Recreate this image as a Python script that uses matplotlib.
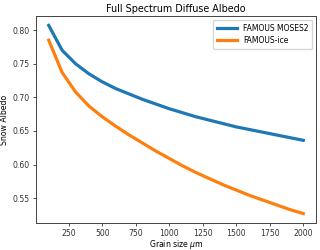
import matplotlib
matplotlib.use("Agg")
import matplotlib.pyplot as plt

grain_size = [100, 200, 300, 400, 500, 600, 700, 800, 900, 1000,
              1100, 1200, 1300, 1400, 1500, 1600, 1700, 1800, 1900, 2000]
moses2 = [0.807, 0.770, 0.750, 0.735, 0.723, 0.713, 0.705, 0.697, 0.690, 0.683,
          0.677, 0.671, 0.666, 0.661, 0.656, 0.652, 0.648, 0.644, 0.640, 0.636]
famous_ice = [0.785, 0.737, 0.708, 0.687, 0.671, 0.657, 0.644, 0.632, 0.620, 0.609,
              0.598, 0.588, 0.579, 0.570, 0.562, 0.554, 0.547, 0.540, 0.533, 0.527]

fig = plt.figure(figsize=(3.2, 2.5), dpi=100)
ax = fig.add_axes([0.1125, 0.108, 0.875, 0.828])
ax.plot(grain_size, moses2, color="#1f77b4", lw=2.3, label="FAMOUS MOSES2",
        solid_joinstyle="round")
ax.plot(grain_size, famous_ice, color="#ff7f0e", lw=2.3, label="FAMOUS-ice",
        solid_joinstyle="round")
ax.set_title("Full Spectrum Diffuse Albedo", fontsize=6.9, pad=3)
ax.set_xlabel("Grain size $\\mu$m", fontsize=5.6, labelpad=0)
ax.set_ylabel("Snow Albedo", fontsize=5.6, labelpad=3)
ax.set_xticks([250, 500, 750, 1000, 1250, 1500, 1750, 2000])
ax.set_yticks([0.55, 0.60, 0.65, 0.70, 0.75, 0.80])
ax.tick_params(labelsize=5.6, length=2.5, width=0.6, pad=1.8, colors="#333333")
for s in ax.spines.values():
    s.set_linewidth(0.7)
    s.set_color("#444444")
ax.legend(loc="upper right", fontsize=5.5, handlelength=2.6, borderpad=0.5,
          labelspacing=0.4, framealpha=0.8)
fig.savefig("out.png", dpi=100)
